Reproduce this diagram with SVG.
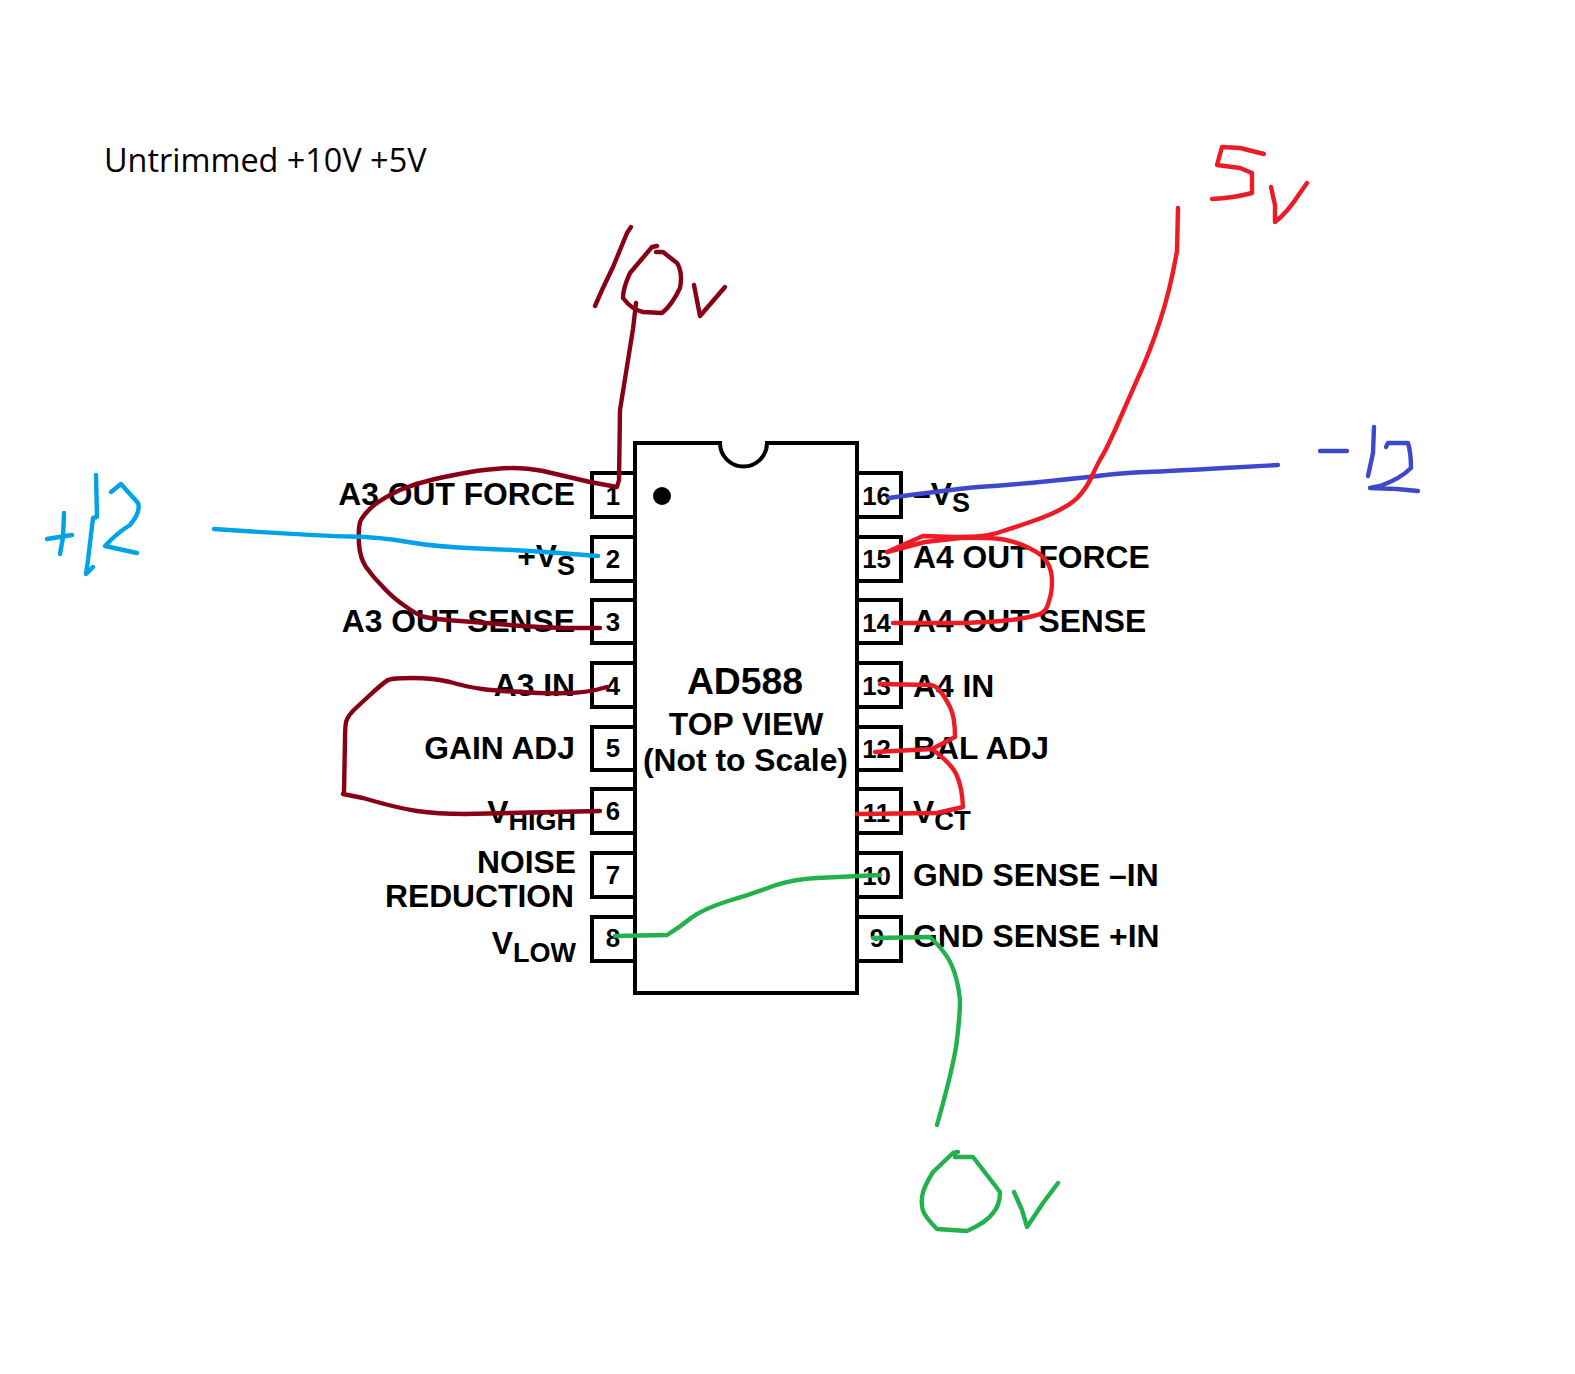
<svg xmlns="http://www.w3.org/2000/svg" width="1575" height="1374" viewBox="0 0 1575 1374">
<style>
text{font-family:"Liberation Sans",Arial,sans-serif;font-weight:700;fill:#000}
.lb{font-size:31.8px}
.l{text-anchor:end}
.n{font-size:25.800px;text-anchor:middle}
.c{text-anchor:middle}
.box{fill:#fff;stroke:#000;stroke-width:4}
.w{fill:none;stroke-width:4.4;stroke-linejoin:round;stroke-linecap:round}
.dr{stroke:#880015}.r{stroke:#ed1c24}.b{stroke:#3f48cc}.lbw{stroke:#00a2e8}.g{stroke:#22b14c}
.t{font-family:"Open Sans","Noto Sans",sans-serif;font-weight:400;font-size:32.4px}
</style>
<rect width="1575" height="1374" fill="#fff"/>
<text id="title" class="t" x="104" y="172">Untrimmed +10V +5V</text>
<g id="pin1"><rect class="box" x="592" y="473" width="43" height="44"/><text class="n" x="613" y="505">1</text><text class="lb l" x="575" y="505">A3 OUT FORCE</text></g>
<g id="pin2"><rect class="box" x="592" y="537" width="43" height="44"/><text class="n" x="613" y="568">2</text><text class="lb l" x="575" y="567">+V<tspan font-size="27" dy="8">S</tspan></text></g>
<g id="pin3"><rect class="box" x="592" y="600" width="43" height="43"/><text class="n" x="613" y="631">3</text><text class="lb l" x="575" y="632">A3 OUT SENSE</text></g>
<g id="pin4"><rect class="box" x="592" y="663" width="43" height="44"/><text class="n" x="613" y="695">4</text><text class="lb l" x="575" y="696">A3 IN</text></g>
<g id="pin5"><rect class="box" x="592" y="727" width="43" height="43"/><text class="n" x="613" y="757">5</text><text class="lb l" x="575" y="759">GAIN ADJ</text></g>
<g id="pin6"><rect class="box" x="592" y="789" width="43" height="44"/><text class="n" x="613" y="820">6</text><text class="lb l" x="576" y="823">V<tspan font-size="27" dy="7">HIGH</tspan></text></g>
<g id="pin7"><rect class="box" x="592" y="853" width="43" height="44"/><text class="n" x="613" y="884">7</text><text class="lb l" x="576" y="873">NOISE</text><text class="lb l" x="574" y="907">REDUCTION</text></g>
<g id="pin8"><rect class="box" x="592" y="917" width="43" height="44"/><text class="n" x="613" y="947">8</text><text class="lb l" x="576" y="954">V<tspan font-size="27" dy="8">LOW</tspan></text></g>
<g id="pin16"><rect class="box" x="857" y="473" width="44" height="44"/><text class="n" x="876.500" y="505">16</text><text class="lb" x="913" y="505">–V<tspan font-size="27" dy="7">S</tspan></text></g>
<g id="pin15"><rect class="box" x="857" y="537" width="44" height="44"/><text class="n" x="876.500" y="568">15</text><text class="lb" x="913" y="568">A4 OUT FORCE</text></g>
<g id="pin14"><rect class="box" x="857" y="600" width="44" height="43"/><text class="n" x="876.500" y="632">14</text><text class="lb" x="913" y="632">A4 OUT SENSE</text></g>
<g id="pin13"><rect class="box" x="857" y="663" width="44" height="44"/><text class="n" x="876.500" y="695">13</text><text class="lb" x="913" y="697">A4 IN</text></g>
<g id="pin12"><rect class="box" x="857" y="727" width="44" height="43"/><text class="n" x="876.500" y="758">12</text><text class="lb" x="913" y="759">BAL ADJ</text></g>
<g id="pin11"><rect class="box" x="857" y="789" width="44" height="44"/><text class="n" x="876.500" y="822">11</text><text class="lb" x="913" y="823">V<tspan font-size="27.500" dy="7">CT</tspan></text></g>
<g id="pin10"><rect class="box" x="857" y="853" width="44" height="44"/><text class="n" x="876.500" y="885">10</text><text class="lb" x="913" y="886">GND SENSE –IN</text></g>
<g id="pin9"><rect class="box" x="857" y="917" width="44" height="44"/><text class="n" x="877" y="947">9</text><text class="lb" x="913" y="947">GND SENSE +IN</text></g>
<g id="chip">
<path d="M635 443H720A23.500 23.500 0 0 0 767 443H857V993H635Z" fill="#fff" stroke="#000" stroke-width="4"/>
<circle cx="662" cy="496" r="9"/>
<text class="c" x="745" y="694" font-size="37.300">AD588</text>
<text class="c lb" x="746" y="735">TOP VIEW</text>
<text class="c lb" x="745.500" y="771">(Not to Scale)</text>
</g>
<g id="connectors">
<path class="w dr" d="M636 303L633 329L620 410L619 480L617 487L590 482Q560 475 543 471Q527 468 513 468Q500 468 476 471Q453 475 435 479Q417 483 400 490Q383 498 373 506Q363 515 360 522Q358 530 359 544Q360 558 366 567Q373 577 383 587Q393 598 405 606Q417 615 425 617Q433 619 460 621Q487 623 510 625Q533 627 566 628L600 628"/>
<path class="w dr" d="M607 687Q587 693 567 693Q547 694 522 692Q497 691 482 689Q467 687 450 682Q433 678 413 678Q393 678 388 680Q383 683 370 695L357 707Q348 715 346 722Q345 728 345 740L344 792L343 794L363 798Q397 808 417 811Q437 814 465 814L600 811"/>
<path class="w lbw" d="M214 529Q320 536 350 536.500Q380 537 408 542Q437 547 478 548.500Q520 550 559 553L598 556"/>
<path class="w b" d="M889 498Q947 490 978 487Q1010 485 1050 481Q1090 477 1106 475Q1123 473 1146 472Q1170 471 1224 468L1278 465"/>
<path class="w r" d="M1178 208L1177 251Q1170 291 1160 321Q1150 352 1137 380Q1125 407 1115 430Q1105 452 1101 458Q1097 465 1092 476Q1087 487 1080 495Q1073 503 1063 508Q1053 514 1033 521Q1013 528 1000 532Q987 537 955 537L923 536L887 552L925 542L960 538Q993 537 1006 540Q1020 543 1031 549Q1043 555 1047 562Q1052 570 1052 581Q1052 593 1049 601Q1047 610 1042 613Q1037 616 1018 619Q1000 622 960 623L893 623"/>
<path class="w r" d="M880 684L930 685Q935 685 940 691Q945 697 950 707Q955 717 955 737L932 749L875 752"/>
<path class="w r" d="M932 749Q953 765 957 776Q962 787 963 807L937 813L857 814"/>
<path class="w g" d="M615 936L667 935Q680 927 691 918Q703 909 728 901Q753 894 773 886Q794 879 817 878L880 875"/>
<path class="w g" d="M873 938L930 937Q947 953 952 966Q958 980 960 1000Q960 1015 957 1040Q954 1065 937 1125"/>
</g>
<g id="annotations">
<polyline class="w dr" points="631,227 627,233 613,267 602,290 595,306"/>
<path class="w dr" d="M657 246L652 247L630 273Q623 288 623 298Q632 310 643 312L662 313Q672 305 680 288Q683 272 677 263L663 252L656 252"/>
<polyline class="w dr" points="694,285 700,316 725,287"/>
<path class="w r" d="M1264 154L1240 148L1222 147L1217 165L1240 168L1252 173L1252 193Q1233 198 1212 199"/>
<path class="w r" d="M1271 187L1275 205L1275 222Q1287 213 1300 193L1307 183"/>
<polyline class="w b" points="1320,451 1347,451"/>
<polyline class="w b" points="1374,427 1373,453 1368,476"/>
<path class="w b" d="M1386 447L1388 443L1408 443Q1411 453 1411 468Q1400 479 1380 486L1370 488L1397 489L1418 491"/>
<polyline class="w lbw" points="47,539 72,535"/>
<polyline class="w lbw" points="64,513 63,537 60,554"/>
<polyline class="w lbw" points="96,475 97,517 93,518 88,560 86,574 93,567"/>
<path class="w lbw" d="M111 492L121 484L138 503Q141 512 130 525Q117 533 105 546L137 553"/>
<path class="w g" d="M958 1152L953 1153L933 1172Q923 1188 922 1197Q921 1207 924 1213Q928 1220 937 1229L967 1231Q987 1222 993 1213Q1000 1205 1000 1192Q987 1175 980 1166L973 1157L955 1157"/>
<polyline class="w g" points="1014,1192 1022,1210 1027,1227 1043,1203 1058,1183"/>
</g>
</svg>
